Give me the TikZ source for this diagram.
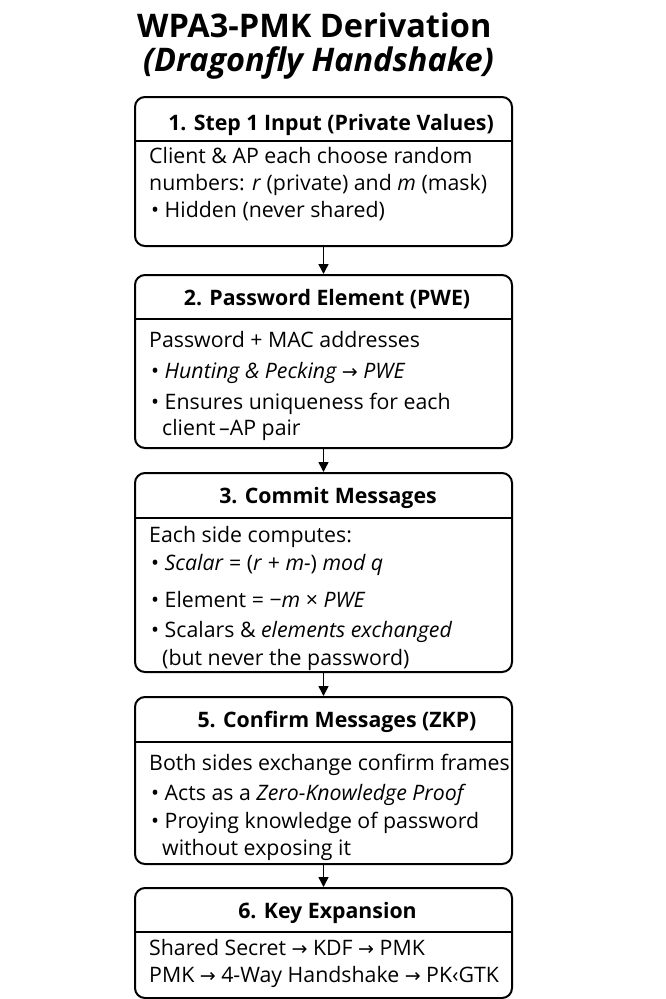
\documentclass[tikz,border=0pt]{standalone}
\usepackage{fontspec}
\setmainfont{Open Sans}
\newfontfamily\symf{DejaVu Sans}
\usetikzlibrary{arrows.meta}
\newcommand{\ar}{{\symf\fontsize{19}{20}\selectfont →}}
\begin{document}
\begin{tikzpicture}[x=1pt,y=-1pt,
  box/.style={draw, line width=2, rounded corners=10, minimum width=377, inner sep=0},
  divider/.style={line width=1.5},
  arr/.style={line width=1.5, -{Triangle[width=10,length=10]}},
  hdr/.style={anchor=base, inner sep=0, font=\fontsize{21.3}{25}\selectfont\bfseries},
  txt/.style={anchor=base west, inner sep=0, font=\fontsize{21.3}{25}\selectfont},
  ttl/.style={anchor=base west, inner sep=0, font=\fontsize{32.5}{36}\selectfont\bfseries}]
\useasboundingbox (0,0) rectangle (666,999);
\fill[white] (0,0) rectangle (666,999);
% title
\node[ttl] (t1) at (137,37) {WPA3-PMK Derivation};
\node[ttl] (t2) at (143,71) {\itshape (Dragonfly Handshake)};
% boxes
\node[box, minimum height=149] (b1) at (323.5,171.5) {};
\node[box, minimum height=173] (b2) at (323.5,361.5) {};
\node[box, minimum height=199] (b3) at (323.5,572.5) {};
\node[box, minimum height=167] (b4) at (323.5,780.5) {};
\node[box, minimum height=110] (b5) at (323.5,943) {};
\draw[divider] (b1.west |- 0,141) -- (b1.east |- 0,141);
\draw[divider] (b2.west |- 0,319) -- (b2.east |- 0,319);
\draw[divider] (b3.west |- 0,518) -- (b3.east |- 0,518);
\draw[divider] (b4.west |- 0,742) -- (b4.east |- 0,742);
\draw[divider] (b5.west |- 0,932) -- (b5.east |- 0,932);
\draw[arr] (b1.south) -- (b2.north);
\draw[arr] (b2.south) -- (b3.north);
\draw[arr] (b3.south) -- (b4.north);
\draw[arr] (b4.south) -- (b5.north);
% box 1
\node[hdr] (h1) at (331,130) {1. Step 1 Input (Private Values)};
\node[txt] (l11) at (149,163) {Client \& AP each choose random};
\node[txt] (l12) at (149,190) {numbers: \textit{r} (private) and \textit{m} (mask)};
\node[txt] (l13) at (151,217) {• Hidden (never shared)};
% box 2
\node[hdr] (h2) at (327,305) {2. Password Element (PWE)};
\node[txt] (l21) at (149,347) {Password + MAC addresses};
\node[txt] (l22) at (151,378) {• \textit{Hunting \& Pecking \ar\ PWE}};
\node[txt] (l23) at (151,409) {• Ensures uniqueness for each};
\node[txt] (l24) at (162,435) {client\,–AP pair};
% box 3
\node[hdr] (h3) at (328,503) {3. Commit Messages};
\node[txt] (l31) at (149,542) {Each side computes:};
\node[txt] (l32) at (151,570) {• \textit{Scalar} = (\textit{r} + \textit{m-}) \textit{mod q}};
\node[txt] (l33) at (151,607) {• Element = −\textit{m} × \textit{PWE}};
\node[txt] (l34) at (151,637) {• Scalars \& \textit{elements exchanged}};
\node[txt] (l35) at (162,665) {(but never the password)};
% box 4
\node[hdr] (h4) at (337,727) {5. Confirm Messages (ZKP)};
\node[txt] (l41) at (149,770) {Both sides exchange confirm frames};
\node[txt] (l42) at (151,800) {• Acts as a \textit{Zero-Knowledge Proof}};
\node[txt] (l43) at (151,828) {• Proying knowledge of password};
\node[txt] (l44) at (162,855) {without exposing it};
% box 5
\node[hdr] (h5) at (327.5,918) {6. Key Expansion};
\node[txt] (l51) at (149,955) {Shared Secret \ar\ KDF \ar\ PMK};
\node[txt] (l52) at (149,982) {PMK \ar\ 4-Way Handshake \ar\ PK‹GTK};
\end{tikzpicture}
\end{document}
